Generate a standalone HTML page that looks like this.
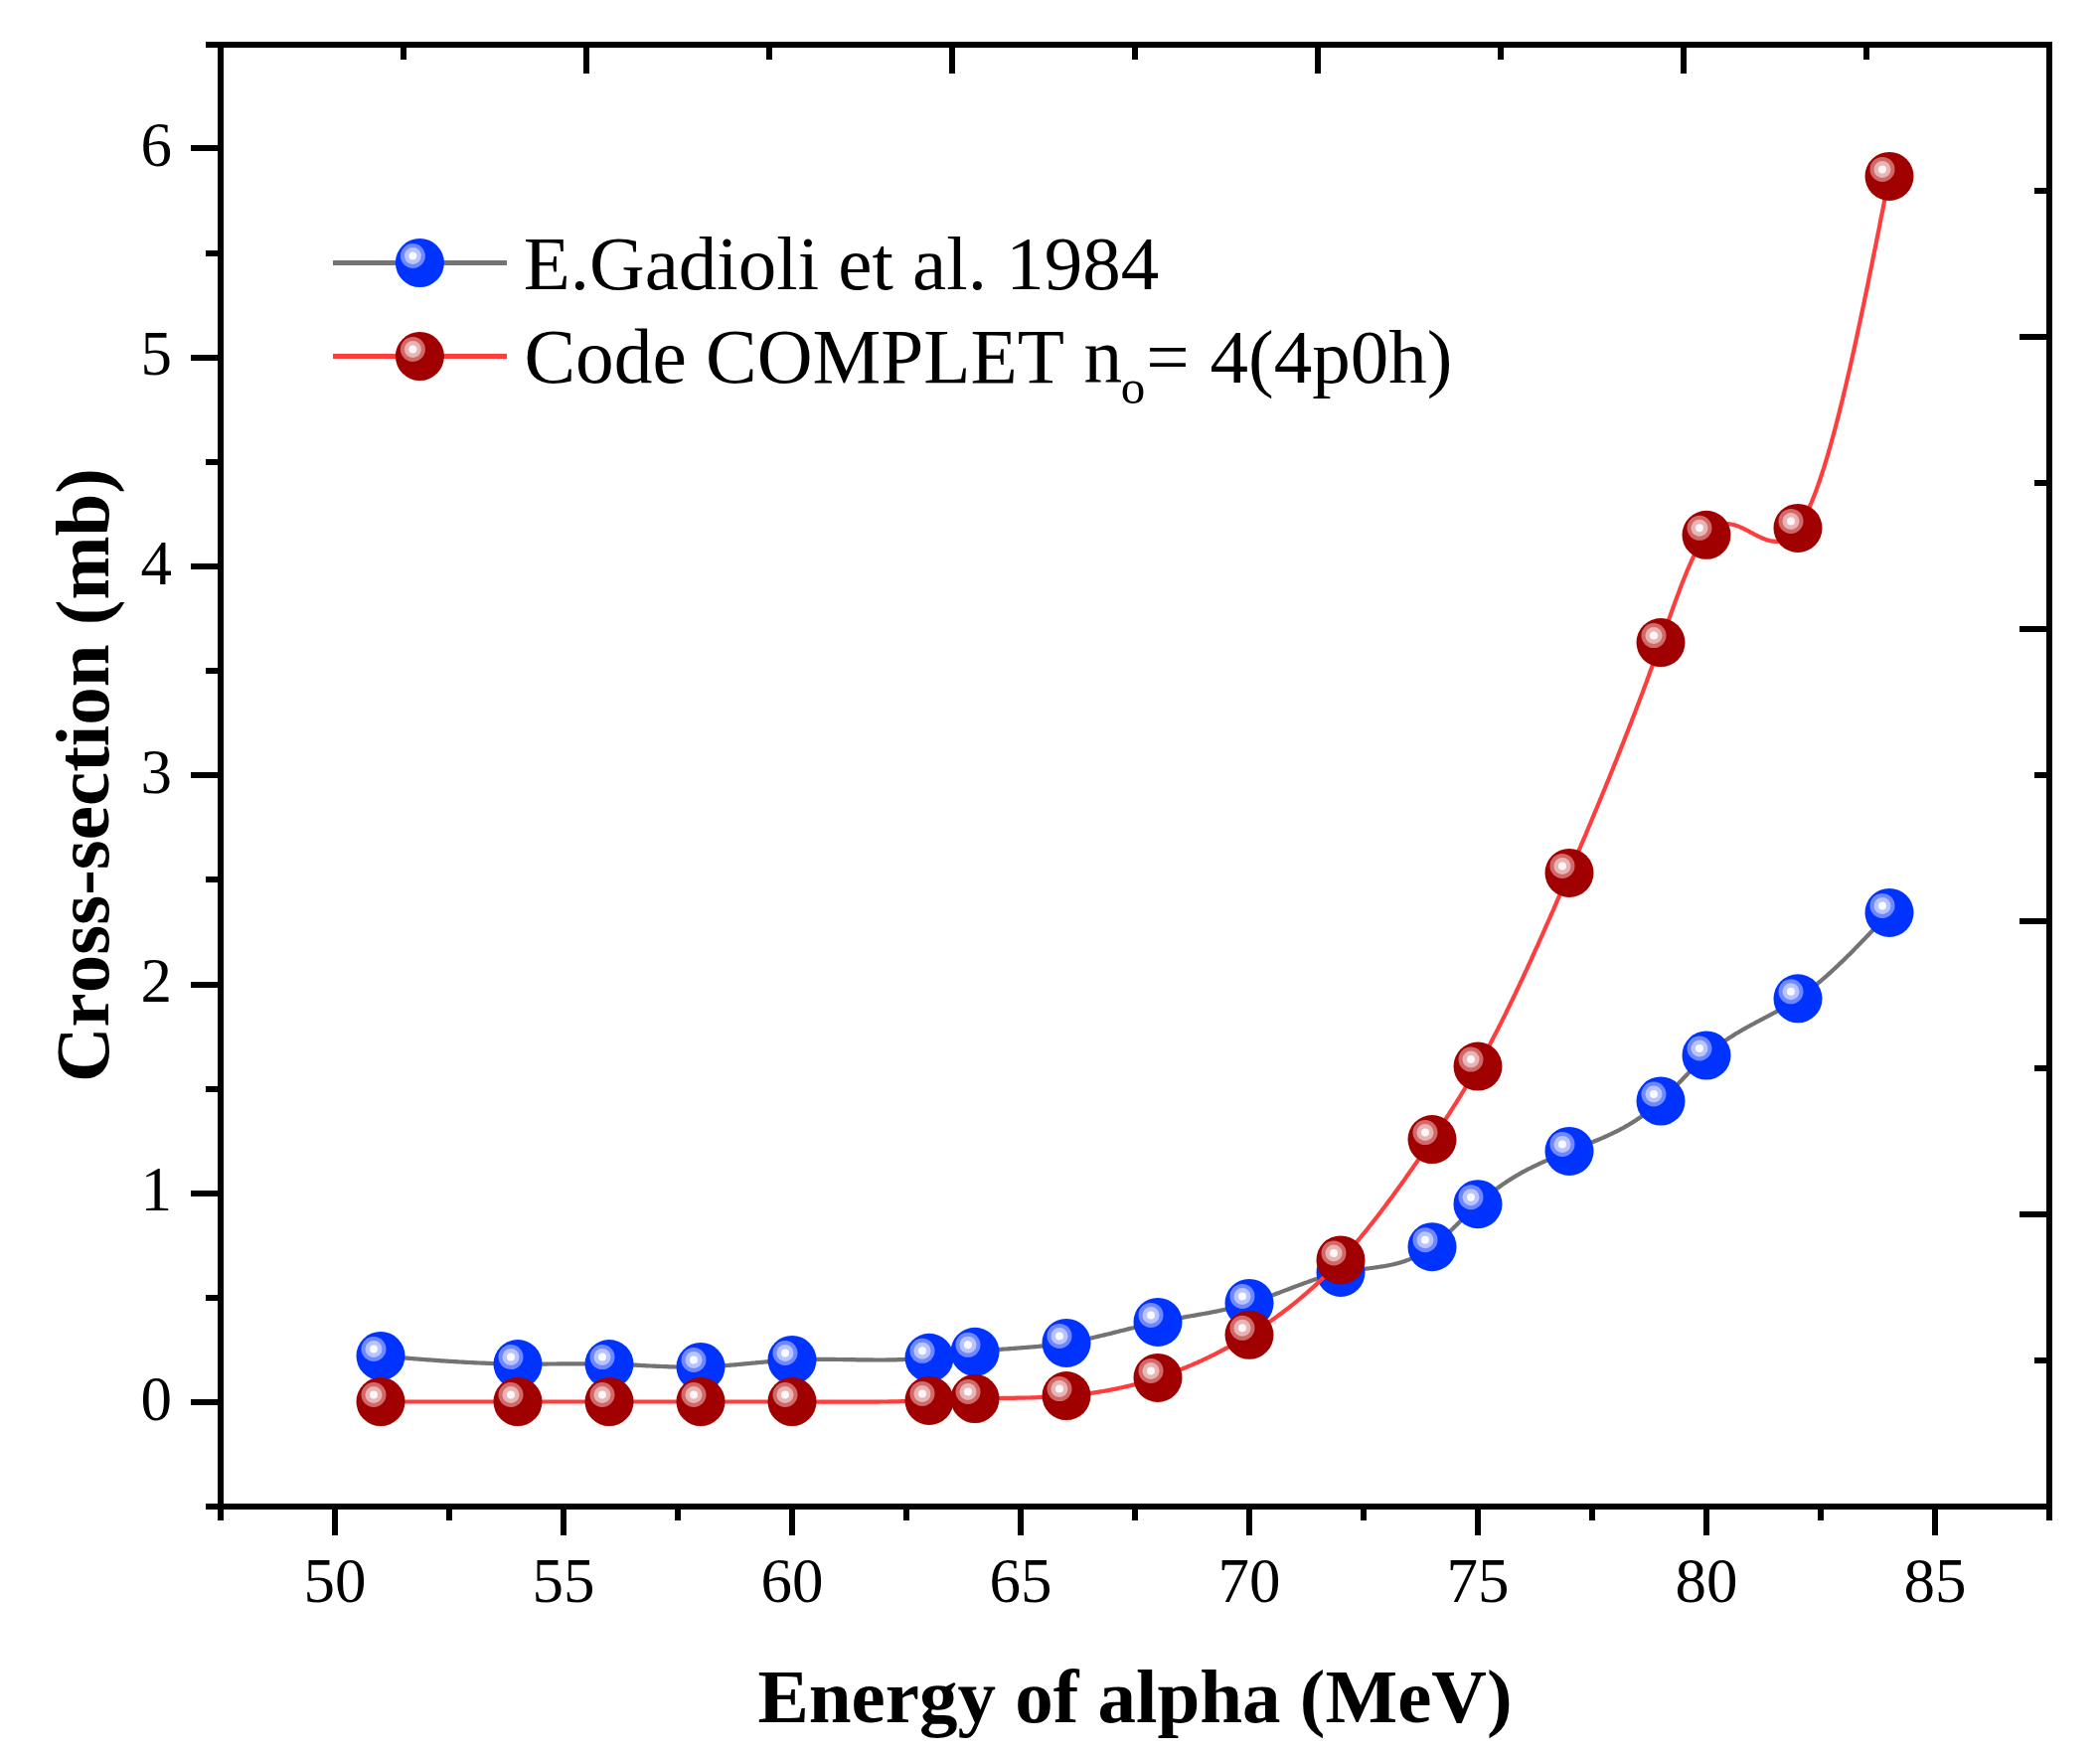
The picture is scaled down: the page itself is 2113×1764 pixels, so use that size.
<!DOCTYPE html><html><head><meta charset="utf-8"><title>Cross-section vs Energy of alpha</title><style>html,body{margin:0;padding:0;background:#fff;overflow:hidden;}svg{display:block;}text{font-family:"Liberation Serif","Times New Roman",serif;fill:#000;font-kerning:none;}</style></head><body>
<svg width="2113" height="1764" viewBox="0 0 2113 1764">
<rect width="2113" height="1764" fill="#fff"/>
<rect x="219" y="42" width="6" height="1477" fill="#000"/>
<rect x="2059" y="42" width="6" height="1477" fill="#000"/>
<rect x="219" y="42" width="1846" height="6" fill="#000"/>
<rect x="219" y="1513" width="1846" height="6" fill="#000"/>
<rect x="207" y="1513" width="12" height="6" fill="#000"/>
<rect x="192" y="1408" width="27" height="6" fill="#000"/>
<rect x="207" y="1303" width="12" height="6" fill="#000"/>
<rect x="192" y="1198" width="27" height="6" fill="#000"/>
<rect x="207" y="1093" width="12" height="6" fill="#000"/>
<rect x="192" y="988" width="27" height="6" fill="#000"/>
<rect x="207" y="882" width="12" height="6" fill="#000"/>
<rect x="192" y="777" width="27" height="6" fill="#000"/>
<rect x="207" y="672" width="12" height="6" fill="#000"/>
<rect x="192" y="567" width="27" height="6" fill="#000"/>
<rect x="207" y="462" width="12" height="6" fill="#000"/>
<rect x="192" y="357" width="27" height="6" fill="#000"/>
<rect x="207" y="252" width="12" height="6" fill="#000"/>
<rect x="192" y="146" width="27" height="6" fill="#000"/>
<rect x="207" y="42" width="12" height="6" fill="#000"/>
<rect x="219" y="1519" width="6" height="11" fill="#000"/>
<rect x="334" y="1519" width="6" height="26" fill="#000"/>
<rect x="449" y="1519" width="6" height="11" fill="#000"/>
<rect x="564" y="1519" width="6" height="26" fill="#000"/>
<rect x="679" y="1519" width="6" height="11" fill="#000"/>
<rect x="794" y="1519" width="6" height="26" fill="#000"/>
<rect x="909" y="1519" width="6" height="11" fill="#000"/>
<rect x="1024" y="1519" width="6" height="26" fill="#000"/>
<rect x="1139" y="1519" width="6" height="11" fill="#000"/>
<rect x="1254" y="1519" width="6" height="26" fill="#000"/>
<rect x="1369" y="1519" width="6" height="11" fill="#000"/>
<rect x="1484" y="1519" width="6" height="26" fill="#000"/>
<rect x="1599" y="1519" width="6" height="11" fill="#000"/>
<rect x="1714" y="1519" width="6" height="26" fill="#000"/>
<rect x="1829" y="1519" width="6" height="11" fill="#000"/>
<rect x="1944" y="1519" width="6" height="26" fill="#000"/>
<rect x="2059" y="1519" width="6" height="11" fill="#000"/>
<rect x="403" y="48" width="6" height="12" fill="#000"/>
<rect x="587" y="48" width="6" height="26" fill="#000"/>
<rect x="771" y="48" width="6" height="12" fill="#000"/>
<rect x="955" y="48" width="6" height="26" fill="#000"/>
<rect x="1139" y="48" width="6" height="12" fill="#000"/>
<rect x="1323" y="48" width="6" height="26" fill="#000"/>
<rect x="1507" y="48" width="6" height="12" fill="#000"/>
<rect x="1691" y="48" width="6" height="26" fill="#000"/>
<rect x="1875" y="48" width="6" height="12" fill="#000"/>
<rect x="2047" y="189" width="12" height="6" fill="#000"/>
<rect x="2032" y="336" width="27" height="6" fill="#000"/>
<rect x="2047" y="483" width="12" height="6" fill="#000"/>
<rect x="2032" y="630" width="27" height="6" fill="#000"/>
<rect x="2047" y="777" width="12" height="6" fill="#000"/>
<rect x="2032" y="924" width="27" height="6" fill="#000"/>
<rect x="2047" y="1072" width="12" height="6" fill="#000"/>
<rect x="2032" y="1219" width="27" height="6" fill="#000"/>
<rect x="2047" y="1366" width="12" height="6" fill="#000"/>
<text x="173" y="1428.5" font-size="63" text-anchor="end">0</text>
<text x="173" y="1218.2" font-size="63" text-anchor="end">1</text>
<text x="173" y="1008.0" font-size="63" text-anchor="end">2</text>
<text x="173" y="797.8" font-size="63" text-anchor="end">3</text>
<text x="173" y="587.5" font-size="63" text-anchor="end">4</text>
<text x="173" y="377.2" font-size="63" text-anchor="end">5</text>
<text x="173" y="167.0" font-size="63" text-anchor="end">6</text>
<text x="337.0" y="1611.5" font-size="63" text-anchor="middle">50</text>
<text x="567.0" y="1611.5" font-size="63" text-anchor="middle">55</text>
<text x="797.0" y="1611.5" font-size="63" text-anchor="middle">60</text>
<text x="1027.0" y="1611.5" font-size="63" text-anchor="middle">65</text>
<text x="1257.0" y="1611.5" font-size="63" text-anchor="middle">70</text>
<text x="1487.0" y="1611.5" font-size="63" text-anchor="middle">75</text>
<text x="1717.0" y="1611.5" font-size="63" text-anchor="middle">80</text>
<text x="1947.0" y="1611.5" font-size="63" text-anchor="middle">85</text>
<text x="1142" y="1733" font-size="77" font-weight="bold" text-anchor="middle">Energy of alpha (MeV)</text>
<text transform="translate(109,780) rotate(-90)" x="0" y="0" font-size="77" font-weight="bold" text-anchor="middle">Cross-section (mb)</text>
<polyline fill="none" stroke="#737373" stroke-width="4.2" stroke-linejoin="round" points="383.0,1364.5 384.3,1364.6 385.5,1364.7 386.8,1364.8 388.1,1364.9 389.3,1365.0 390.6,1365.1 391.9,1365.2 393.1,1365.3 394.4,1365.4 395.7,1365.5 396.9,1365.7 398.2,1365.8 399.5,1365.9 400.7,1366.0 402.0,1366.1 403.3,1366.2 404.5,1366.3 405.8,1366.4 407.1,1366.5 408.3,1366.6 409.6,1366.7 410.9,1366.8 412.1,1366.9 413.4,1367.0 414.7,1367.1 415.9,1367.2 417.2,1367.3 418.4,1367.4 419.7,1367.5 421.0,1367.6 422.2,1367.7 423.5,1367.8 424.8,1367.9 426.0,1368.0 427.3,1368.1 428.6,1368.2 429.8,1368.3 431.1,1368.3 432.4,1368.4 433.6,1368.5 434.9,1368.6 436.2,1368.7 437.4,1368.8 438.7,1368.9 440.0,1369.0 441.2,1369.1 442.5,1369.2 443.8,1369.3 445.0,1369.3 446.3,1369.4 447.6,1369.5 448.8,1369.6 450.1,1369.7 451.4,1369.8 452.6,1369.8 453.9,1369.9 455.2,1370.0 456.4,1370.1 457.7,1370.2 459.0,1370.2 460.2,1370.3 461.5,1370.4 462.8,1370.5 464.0,1370.5 465.3,1370.6 466.6,1370.7 467.8,1370.8 469.1,1370.8 470.4,1370.9 471.6,1371.0 472.9,1371.0 474.2,1371.1 475.4,1371.2 476.7,1371.2 478.0,1371.3 479.2,1371.3 480.5,1371.4 481.8,1371.5 483.0,1371.5 484.3,1371.6 485.6,1371.6 486.8,1371.7 488.1,1371.7 489.3,1371.8 490.6,1371.8 491.9,1371.9 493.1,1371.9 494.4,1372.0 495.7,1372.0 496.9,1372.1 498.2,1372.1 499.5,1372.1 500.7,1372.2 502.0,1372.2 503.3,1372.3 504.5,1372.3 505.8,1372.3 507.1,1372.4 508.3,1372.4 509.6,1372.4 510.9,1372.4 512.1,1372.5 513.4,1372.5 514.7,1372.5 515.9,1372.5 517.2,1372.6 518.5,1372.6 519.7,1372.6 521.0,1372.6 522.3,1372.6 523.5,1372.6 524.8,1372.6 526.1,1372.6 527.3,1372.6 528.6,1372.6 529.9,1372.7 531.1,1372.7 532.4,1372.7 533.7,1372.7 534.9,1372.7 536.2,1372.6 537.5,1372.6 538.7,1372.6 540.0,1372.6 541.3,1372.6 542.5,1372.6 543.8,1372.6 545.1,1372.6 546.3,1372.6 547.6,1372.6 548.9,1372.6 550.1,1372.6 551.4,1372.5 552.7,1372.5 553.9,1372.5 555.2,1372.5 556.4,1372.5 557.7,1372.5 559.0,1372.5 560.2,1372.5 561.5,1372.4 562.8,1372.4 564.0,1372.4 565.3,1372.4 566.6,1372.4 567.8,1372.4 569.1,1372.4 570.4,1372.4 571.6,1372.4 572.9,1372.3 574.2,1372.3 575.4,1372.3 576.7,1372.3 578.0,1372.3 579.2,1372.3 580.5,1372.3 581.8,1372.3 583.0,1372.3 584.3,1372.3 585.6,1372.3 586.8,1372.3 588.1,1372.3 589.4,1372.3 590.6,1372.3 591.9,1372.3 593.2,1372.3 594.4,1372.3 595.7,1372.3 597.0,1372.3 598.2,1372.3 599.5,1372.3 600.8,1372.4 602.0,1372.4 603.3,1372.4 604.6,1372.4 605.8,1372.4 607.1,1372.5 608.4,1372.5 609.6,1372.5 610.9,1372.5 612.2,1372.6 613.4,1372.6 614.7,1372.6 616.0,1372.7 617.2,1372.7 618.5,1372.8 619.8,1372.8 621.0,1372.9 622.3,1372.9 623.6,1373.0 624.8,1373.0 626.1,1373.1 627.3,1373.1 628.6,1373.2 629.9,1373.2 631.1,1373.3 632.4,1373.4 633.7,1373.4 634.9,1373.5 636.2,1373.5 637.5,1373.6 638.7,1373.7 640.0,1373.7 641.3,1373.8 642.5,1373.9 643.8,1373.9 645.1,1374.0 646.3,1374.1 647.6,1374.1 648.9,1374.2 650.1,1374.3 651.4,1374.3 652.7,1374.4 653.9,1374.5 655.2,1374.5 656.5,1374.6 657.7,1374.6 659.0,1374.7 660.3,1374.8 661.5,1374.8 662.8,1374.9 664.1,1374.9 665.3,1375.0 666.6,1375.0 667.9,1375.1 669.1,1375.1 670.4,1375.2 671.7,1375.2 672.9,1375.3 674.2,1375.3 675.5,1375.4 676.7,1375.4 678.0,1375.4 679.3,1375.5 680.5,1375.5 681.8,1375.5 683.1,1375.6 684.3,1375.6 685.6,1375.6 686.9,1375.6 688.1,1375.6 689.4,1375.6 690.7,1375.7 691.9,1375.7 693.2,1375.7 694.4,1375.7 695.7,1375.7 697.0,1375.6 698.2,1375.6 699.5,1375.6 700.8,1375.6 702.0,1375.6 703.3,1375.5 704.6,1375.5 705.8,1375.5 707.1,1375.4 708.4,1375.4 709.6,1375.3 710.9,1375.3 712.2,1375.2 713.4,1375.2 714.7,1375.1 716.0,1375.0 717.2,1375.0 718.5,1374.9 719.8,1374.8 721.0,1374.7 722.3,1374.7 723.6,1374.6 724.8,1374.5 726.1,1374.4 727.4,1374.3 728.6,1374.2 729.9,1374.1 731.2,1374.0 732.4,1373.9 733.7,1373.8 735.0,1373.7 736.2,1373.6 737.5,1373.5 738.8,1373.4 740.0,1373.3 741.3,1373.1 742.6,1373.0 743.8,1372.9 745.1,1372.8 746.4,1372.7 747.6,1372.6 748.9,1372.4 750.2,1372.3 751.4,1372.2 752.7,1372.1 754.0,1372.0 755.2,1371.8 756.5,1371.7 757.8,1371.6 759.0,1371.5 760.3,1371.4 761.6,1371.2 762.8,1371.1 764.1,1371.0 765.3,1370.9 766.6,1370.8 767.9,1370.7 769.1,1370.5 770.4,1370.4 771.7,1370.3 772.9,1370.2 774.2,1370.1 775.5,1370.0 776.7,1369.9 778.0,1369.8 779.3,1369.7 780.5,1369.6 781.8,1369.5 783.1,1369.4 784.3,1369.3 785.6,1369.2 786.9,1369.1 788.1,1369.0 789.4,1368.9 790.7,1368.9 791.9,1368.8 793.2,1368.7 794.5,1368.6 795.7,1368.6 797.0,1368.5 798.3,1368.4 799.5,1368.4 800.8,1368.3 802.1,1368.3 803.3,1368.2 804.6,1368.2 805.9,1368.1 807.1,1368.1 808.4,1368.1 809.7,1368.0 810.9,1368.0 812.2,1368.0 813.5,1368.0 814.7,1367.9 816.0,1367.9 817.3,1367.9 818.5,1367.9 819.8,1367.9 821.1,1367.9 822.3,1367.9 823.6,1367.9 824.9,1367.9 826.1,1367.9 827.4,1367.9 828.7,1367.9 829.9,1367.9 831.2,1367.9 832.4,1367.9 833.7,1367.9 835.0,1367.9 836.2,1367.9 837.5,1367.9 838.8,1367.9 840.0,1367.9 841.3,1368.0 842.6,1368.0 843.8,1368.0 845.1,1368.0 846.4,1368.0 847.6,1368.0 848.9,1368.1 850.2,1368.1 851.4,1368.1 852.7,1368.1 854.0,1368.1 855.2,1368.2 856.5,1368.2 857.8,1368.2 859.0,1368.2 860.3,1368.2 861.6,1368.3 862.8,1368.3 864.1,1368.3 865.4,1368.3 866.6,1368.3 867.9,1368.3 869.2,1368.4 870.4,1368.4 871.7,1368.4 873.0,1368.4 874.2,1368.4 875.5,1368.4 876.8,1368.4 878.0,1368.4 879.3,1368.5 880.6,1368.5 881.8,1368.5 883.1,1368.5 884.4,1368.5 885.6,1368.5 886.9,1368.5 888.2,1368.5 889.4,1368.5 890.7,1368.5 892.0,1368.4 893.2,1368.4 894.5,1368.4 895.8,1368.4 897.0,1368.4 898.3,1368.4 899.6,1368.3 900.8,1368.3 902.1,1368.3 903.3,1368.2 904.6,1368.2 905.9,1368.2 907.1,1368.1 908.4,1368.1 909.7,1368.0 910.9,1368.0 912.2,1367.9 913.5,1367.9 914.7,1367.8 916.0,1367.7 917.3,1367.7 918.5,1367.6 919.8,1367.5 921.1,1367.5 922.3,1367.4 923.6,1367.3 924.9,1367.2 926.1,1367.1 927.4,1367.0 928.7,1366.9 929.9,1366.8 931.2,1366.7 932.5,1366.5 933.7,1366.4 935.0,1366.3 936.3,1366.2 937.5,1366.0 938.8,1365.9 940.1,1365.7 941.3,1365.6 942.6,1365.4 943.9,1365.3 945.1,1365.1 946.4,1365.0 947.7,1364.8 948.9,1364.6 950.2,1364.5 951.5,1364.3 952.7,1364.1 954.0,1363.9 955.3,1363.8 956.5,1363.6 957.8,1363.4 959.1,1363.2 960.3,1363.1 961.6,1362.9 962.9,1362.7 964.1,1362.5 965.4,1362.3 966.7,1362.2 967.9,1362.0 969.2,1361.8 970.4,1361.6 971.7,1361.5 973.0,1361.3 974.2,1361.1 975.5,1361.0 976.8,1360.8 978.0,1360.7 979.3,1360.5 980.6,1360.3 981.8,1360.2 983.1,1360.1 984.4,1359.9 985.6,1359.8 986.9,1359.6 988.2,1359.5 989.4,1359.4 990.7,1359.3 992.0,1359.1 993.2,1359.0 994.5,1358.9 995.8,1358.8 997.0,1358.7 998.3,1358.6 999.6,1358.5 1000.8,1358.3 1002.1,1358.2 1003.4,1358.1 1004.6,1358.0 1005.9,1357.9 1007.2,1357.8 1008.4,1357.7 1009.7,1357.6 1011.0,1357.5 1012.2,1357.5 1013.5,1357.4 1014.8,1357.3 1016.0,1357.2 1017.3,1357.1 1018.6,1357.0 1019.8,1356.9 1021.1,1356.8 1022.4,1356.7 1023.6,1356.6 1024.9,1356.5 1026.2,1356.4 1027.4,1356.3 1028.7,1356.2 1030.0,1356.1 1031.2,1356.0 1032.5,1355.9 1033.8,1355.8 1035.0,1355.7 1036.3,1355.6 1037.6,1355.5 1038.8,1355.4 1040.1,1355.3 1041.3,1355.2 1042.6,1355.1 1043.9,1355.0 1045.1,1354.9 1046.4,1354.7 1047.7,1354.6 1048.9,1354.5 1050.2,1354.4 1051.5,1354.2 1052.7,1354.1 1054.0,1354.0 1055.3,1353.8 1056.5,1353.7 1057.8,1353.5 1059.1,1353.4 1060.3,1353.2 1061.6,1353.0 1062.9,1352.9 1064.1,1352.7 1065.4,1352.5 1066.7,1352.4 1067.9,1352.2 1069.2,1352.0 1070.5,1351.8 1071.7,1351.6 1073.0,1351.4 1074.3,1351.2 1075.5,1351.0 1076.8,1350.8 1078.1,1350.5 1079.3,1350.3 1080.6,1350.1 1081.9,1349.8 1083.1,1349.6 1084.4,1349.4 1085.7,1349.1 1086.9,1348.9 1088.2,1348.6 1089.5,1348.3 1090.7,1348.1 1092.0,1347.8 1093.3,1347.5 1094.5,1347.3 1095.8,1347.0 1097.1,1346.7 1098.3,1346.4 1099.6,1346.1 1100.9,1345.8 1102.1,1345.5 1103.4,1345.2 1104.7,1344.9 1105.9,1344.6 1107.2,1344.3 1108.4,1344.0 1109.7,1343.7 1111.0,1343.4 1112.2,1343.1 1113.5,1342.8 1114.8,1342.5 1116.0,1342.2 1117.3,1341.9 1118.6,1341.6 1119.8,1341.2 1121.1,1340.9 1122.4,1340.6 1123.6,1340.3 1124.9,1340.0 1126.2,1339.6 1127.4,1339.3 1128.7,1339.0 1130.0,1338.7 1131.2,1338.4 1132.5,1338.1 1133.8,1337.7 1135.0,1337.4 1136.3,1337.1 1137.6,1336.8 1138.8,1336.5 1140.1,1336.2 1141.4,1335.8 1142.6,1335.5 1143.9,1335.2 1145.2,1334.9 1146.4,1334.6 1147.7,1334.3 1149.0,1334.0 1150.2,1333.7 1151.5,1333.4 1152.8,1333.1 1154.0,1332.8 1155.3,1332.5 1156.6,1332.2 1157.8,1332.0 1159.1,1331.7 1160.4,1331.4 1161.6,1331.1 1162.9,1330.8 1164.2,1330.6 1165.4,1330.3 1166.7,1330.0 1168.0,1329.8 1169.2,1329.5 1170.5,1329.3 1171.8,1329.0 1173.0,1328.8 1174.3,1328.5 1175.6,1328.3 1176.8,1328.1 1178.1,1327.8 1179.3,1327.6 1180.6,1327.4 1181.9,1327.1 1183.1,1326.9 1184.4,1326.7 1185.7,1326.4 1186.9,1326.2 1188.2,1326.0 1189.5,1325.8 1190.7,1325.6 1192.0,1325.3 1193.3,1325.1 1194.5,1324.9 1195.8,1324.7 1197.1,1324.5 1198.3,1324.2 1199.6,1324.0 1200.9,1323.8 1202.1,1323.6 1203.4,1323.3 1204.7,1323.1 1205.9,1322.9 1207.2,1322.7 1208.5,1322.5 1209.7,1322.2 1211.0,1322.0 1212.3,1321.8 1213.5,1321.5 1214.8,1321.3 1216.1,1321.1 1217.3,1320.8 1218.6,1320.6 1219.9,1320.3 1221.1,1320.1 1222.4,1319.8 1223.7,1319.6 1224.9,1319.3 1226.2,1319.1 1227.5,1318.8 1228.7,1318.6 1230.0,1318.3 1231.3,1318.0 1232.5,1317.7 1233.8,1317.5 1235.1,1317.2 1236.3,1316.9 1237.6,1316.6 1238.9,1316.3 1240.1,1316.0 1241.4,1315.7 1242.7,1315.4 1243.9,1315.0 1245.2,1314.7 1246.4,1314.4 1247.7,1314.1 1249.0,1313.7 1250.2,1313.4 1251.5,1313.0 1252.8,1312.6 1254.0,1312.3 1255.3,1311.9 1256.6,1311.5 1257.8,1311.1 1259.1,1310.7 1260.4,1310.3 1261.6,1309.9 1262.9,1309.5 1264.2,1309.1 1265.4,1308.7 1266.7,1308.3 1268.0,1307.8 1269.2,1307.4 1270.5,1306.9 1271.8,1306.5 1273.0,1306.0 1274.3,1305.6 1275.6,1305.1 1276.8,1304.7 1278.1,1304.2 1279.4,1303.7 1280.6,1303.2 1281.9,1302.8 1283.2,1302.3 1284.4,1301.8 1285.7,1301.3 1287.0,1300.9 1288.2,1300.4 1289.5,1299.9 1290.8,1299.4 1292.0,1298.9 1293.3,1298.4 1294.6,1297.9 1295.8,1297.5 1297.1,1297.0 1298.4,1296.5 1299.6,1296.0 1300.9,1295.5 1302.2,1295.0 1303.4,1294.6 1304.7,1294.1 1306.0,1293.6 1307.2,1293.1 1308.5,1292.7 1309.8,1292.2 1311.0,1291.7 1312.3,1291.3 1313.6,1290.8 1314.8,1290.4 1316.1,1289.9 1317.3,1289.5 1318.6,1289.0 1319.9,1288.6 1321.1,1288.1 1322.4,1287.7 1323.7,1287.3 1324.9,1286.9 1326.2,1286.5 1327.5,1286.1 1328.7,1285.7 1330.0,1285.3 1331.3,1284.9 1332.5,1284.5 1333.8,1284.2 1335.1,1283.8 1336.3,1283.4 1337.6,1283.1 1338.9,1282.8 1340.1,1282.4 1341.4,1282.1 1342.7,1281.8 1343.9,1281.5 1345.2,1281.2 1346.5,1280.9 1347.7,1280.7 1349.0,1280.4 1350.3,1280.1 1351.5,1279.9 1352.8,1279.7 1354.1,1279.5 1355.3,1279.2 1356.6,1279.0 1357.9,1278.8 1359.1,1278.6 1360.4,1278.5 1361.7,1278.3 1362.9,1278.1 1364.2,1277.9 1365.5,1277.8 1366.7,1277.6 1368.0,1277.4 1369.3,1277.3 1370.5,1277.1 1371.8,1277.0 1373.1,1276.8 1374.3,1276.7 1375.6,1276.5 1376.9,1276.4 1378.1,1276.2 1379.4,1276.0 1380.7,1275.9 1381.9,1275.7 1383.2,1275.5 1384.4,1275.4 1385.7,1275.2 1387.0,1275.0 1388.2,1274.8 1389.5,1274.6 1390.8,1274.4 1392.0,1274.2 1393.3,1274.0 1394.6,1273.8 1395.8,1273.5 1397.1,1273.3 1398.4,1273.0 1399.6,1272.8 1400.9,1272.5 1402.2,1272.2 1403.4,1271.9 1404.7,1271.6 1406.0,1271.3 1407.2,1270.9 1408.5,1270.6 1409.8,1270.2 1411.0,1269.8 1412.3,1269.4 1413.6,1269.0 1414.8,1268.5 1416.1,1268.1 1417.4,1267.6 1418.6,1267.1 1419.9,1266.6 1421.2,1266.1 1422.4,1265.5 1423.7,1264.9 1425.0,1264.4 1426.2,1263.7 1427.5,1263.1 1428.8,1262.4 1430.0,1261.7 1431.3,1261.0 1432.6,1260.3 1433.8,1259.5 1435.1,1258.7 1436.4,1257.9 1437.6,1257.1 1438.9,1256.2 1440.2,1255.3 1441.4,1254.4 1442.7,1253.4 1444.0,1252.4 1445.2,1251.4 1446.5,1250.4 1447.8,1249.3 1449.0,1248.3 1450.3,1247.2 1451.6,1246.0 1452.8,1244.9 1454.1,1243.7 1455.3,1242.6 1456.6,1241.4 1457.9,1240.2 1459.1,1239.0 1460.4,1237.7 1461.7,1236.5 1462.9,1235.3 1464.2,1234.0 1465.5,1232.8 1466.7,1231.5 1468.0,1230.2 1469.3,1229.0 1470.5,1227.7 1471.8,1226.4 1473.1,1225.2 1474.3,1223.9 1475.6,1222.6 1476.9,1221.4 1478.1,1220.1 1479.4,1218.9 1480.7,1217.7 1481.9,1216.5 1483.2,1215.2 1484.5,1214.0 1485.7,1212.9 1487.0,1211.7 1488.3,1210.6 1489.5,1209.4 1490.8,1208.3 1492.1,1207.2 1493.3,1206.1 1494.6,1205.0 1495.9,1204.0 1497.1,1203.0 1498.4,1201.9 1499.7,1200.9 1500.9,1199.9 1502.2,1199.0 1503.5,1198.0 1504.7,1197.0 1506.0,1196.1 1507.3,1195.2 1508.5,1194.3 1509.8,1193.4 1511.1,1192.5 1512.3,1191.6 1513.6,1190.8 1514.9,1189.9 1516.1,1189.1 1517.4,1188.3 1518.7,1187.4 1519.9,1186.6 1521.2,1185.9 1522.4,1185.1 1523.7,1184.3 1525.0,1183.6 1526.2,1182.8 1527.5,1182.1 1528.8,1181.4 1530.0,1180.6 1531.3,1179.9 1532.6,1179.2 1533.8,1178.6 1535.1,1177.9 1536.4,1177.2 1537.6,1176.5 1538.9,1175.9 1540.2,1175.3 1541.4,1174.6 1542.7,1174.0 1544.0,1173.4 1545.2,1172.8 1546.5,1172.2 1547.8,1171.6 1549.0,1171.0 1550.3,1170.4 1551.6,1169.8 1552.8,1169.2 1554.1,1168.7 1555.4,1168.1 1556.6,1167.5 1557.9,1167.0 1559.2,1166.4 1560.4,1165.9 1561.7,1165.4 1563.0,1164.8 1564.2,1164.3 1565.5,1163.8 1566.8,1163.3 1568.0,1162.8 1569.3,1162.2 1570.6,1161.7 1571.8,1161.2 1573.1,1160.7 1574.4,1160.2 1575.6,1159.7 1576.9,1159.2 1578.2,1158.7 1579.4,1158.2 1580.7,1157.7 1582.0,1157.3 1583.2,1156.8 1584.5,1156.3 1585.8,1155.8 1587.0,1155.3 1588.3,1154.8 1589.6,1154.3 1590.8,1153.8 1592.1,1153.3 1593.3,1152.8 1594.6,1152.4 1595.9,1151.9 1597.1,1151.4 1598.4,1150.9 1599.7,1150.4 1600.9,1149.8 1602.2,1149.3 1603.5,1148.8 1604.7,1148.3 1606.0,1147.8 1607.3,1147.3 1608.5,1146.7 1609.8,1146.2 1611.1,1145.6 1612.3,1145.1 1613.6,1144.5 1614.9,1144.0 1616.1,1143.4 1617.4,1142.8 1618.7,1142.2 1619.9,1141.6 1621.2,1141.1 1622.5,1140.4 1623.7,1139.8 1625.0,1139.2 1626.3,1138.6 1627.5,1137.9 1628.8,1137.3 1630.1,1136.6 1631.3,1135.9 1632.6,1135.3 1633.9,1134.6 1635.1,1133.9 1636.4,1133.1 1637.7,1132.4 1638.9,1131.7 1640.2,1130.9 1641.5,1130.2 1642.7,1129.4 1644.0,1128.6 1645.3,1127.8 1646.5,1127.0 1647.8,1126.1 1649.1,1125.3 1650.3,1124.4 1651.6,1123.5 1652.9,1122.6 1654.1,1121.7 1655.4,1120.8 1656.7,1119.9 1657.9,1118.9 1659.2,1117.9 1660.4,1117.0 1661.7,1115.9 1663.0,1114.9 1664.2,1113.9 1665.5,1112.8 1666.8,1111.7 1668.0,1110.6 1669.3,1109.5 1670.6,1108.4 1671.8,1107.2 1673.1,1106.1 1674.4,1104.9 1675.6,1103.6 1676.9,1102.4 1678.2,1101.2 1679.4,1099.9 1680.7,1098.7 1682.0,1097.4 1683.2,1096.1 1684.5,1094.8 1685.8,1093.5 1687.0,1092.2 1688.3,1090.9 1689.6,1089.5 1690.8,1088.2 1692.1,1086.9 1693.4,1085.6 1694.6,1084.2 1695.9,1082.9 1697.2,1081.6 1698.4,1080.3 1699.7,1078.9 1701.0,1077.6 1702.2,1076.3 1703.5,1075.0 1704.8,1073.8 1706.0,1072.5 1707.3,1071.2 1708.6,1070.0 1709.8,1068.7 1711.1,1067.5 1712.4,1066.3 1713.6,1065.1 1714.9,1063.9 1716.2,1062.8 1717.4,1061.6 1718.7,1060.5 1720.0,1059.4 1721.2,1058.3 1722.5,1057.3 1723.8,1056.3 1725.0,1055.2 1726.3,1054.2 1727.6,1053.3 1728.8,1052.3 1730.1,1051.3 1731.3,1050.4 1732.6,1049.5 1733.9,1048.6 1735.1,1047.7 1736.4,1046.8 1737.7,1046.0 1738.9,1045.1 1740.2,1044.3 1741.5,1043.5 1742.7,1042.7 1744.0,1041.9 1745.3,1041.1 1746.5,1040.3 1747.8,1039.5 1749.1,1038.8 1750.3,1038.0 1751.6,1037.3 1752.9,1036.6 1754.1,1035.8 1755.4,1035.1 1756.7,1034.4 1757.9,1033.7 1759.2,1033.0 1760.5,1032.3 1761.7,1031.6 1763.0,1030.9 1764.3,1030.3 1765.5,1029.6 1766.8,1028.9 1768.1,1028.2 1769.3,1027.6 1770.6,1026.9 1771.9,1026.2 1773.1,1025.6 1774.4,1024.9 1775.7,1024.2 1776.9,1023.6 1778.2,1022.9 1779.5,1022.2 1780.7,1021.5 1782.0,1020.9 1783.3,1020.2 1784.5,1019.5 1785.8,1018.8 1787.1,1018.1 1788.3,1017.4 1789.6,1016.7 1790.9,1016.0 1792.1,1015.3 1793.4,1014.5 1794.7,1013.8 1795.9,1013.1 1797.2,1012.3 1798.4,1011.6 1799.7,1010.8 1801.0,1010.0 1802.2,1009.2 1803.5,1008.4 1804.8,1007.6 1806.0,1006.8 1807.3,1005.9 1808.6,1005.1 1809.8,1004.2 1811.1,1003.3 1812.4,1002.5 1813.6,1001.6 1814.9,1000.6 1816.2,999.7 1817.4,998.8 1818.7,997.8 1820.0,996.9 1821.2,995.9 1822.5,994.9 1823.8,993.9 1825.0,992.9 1826.3,991.8 1827.6,990.8 1828.8,989.8 1830.1,988.7 1831.4,987.6 1832.6,986.6 1833.9,985.5 1835.2,984.4 1836.4,983.3 1837.7,982.2 1839.0,981.0 1840.2,979.9 1841.5,978.8 1842.8,977.6 1844.0,976.5 1845.3,975.3 1846.6,974.1 1847.8,972.9 1849.1,971.7 1850.4,970.5 1851.6,969.3 1852.9,968.1 1854.2,966.9 1855.4,965.7 1856.7,964.4 1858.0,963.2 1859.2,961.9 1860.5,960.7 1861.8,959.4 1863.0,958.2 1864.3,956.9 1865.6,955.6 1866.8,954.3 1868.1,953.0 1869.3,951.7 1870.6,950.4 1871.9,949.1 1873.1,947.8 1874.4,946.5 1875.7,945.2 1876.9,943.9 1878.2,942.6 1879.5,941.2 1880.7,939.9 1882.0,938.6 1883.3,937.3 1884.5,935.9 1885.8,934.6 1887.1,933.2 1888.3,931.9 1889.6,930.6 1890.9,929.2 1892.1,927.9 1893.4,926.5 1894.7,925.2 1895.9,923.8 1897.2,922.5 1898.5,921.1 1899.7,919.8 1901.0,918.4"/>
<circle cx="383.0" cy="1364.5" r="24.5" fill="#0033ff"/><circle cx="376.0" cy="1357.5" r="12.5" fill="#7088ff"/><circle cx="376.0" cy="1357.5" r="8.5" fill="#b8c4ff"/><circle cx="376.0" cy="1357.5" r="4" fill="#f8faff"/>
<circle cx="521.0" cy="1372.6" r="24.5" fill="#0033ff"/><circle cx="514.0" cy="1365.6" r="12.5" fill="#7088ff"/><circle cx="514.0" cy="1365.6" r="8.5" fill="#b8c4ff"/><circle cx="514.0" cy="1365.6" r="4" fill="#f8faff"/>
<circle cx="613.0" cy="1372.6" r="24.5" fill="#0033ff"/><circle cx="606.0" cy="1365.6" r="12.5" fill="#7088ff"/><circle cx="606.0" cy="1365.6" r="8.5" fill="#b8c4ff"/><circle cx="606.0" cy="1365.6" r="4" fill="#f8faff"/>
<circle cx="705.0" cy="1375.5" r="24.5" fill="#0033ff"/><circle cx="698.0" cy="1368.5" r="12.5" fill="#7088ff"/><circle cx="698.0" cy="1368.5" r="8.5" fill="#b8c4ff"/><circle cx="698.0" cy="1368.5" r="4" fill="#f8faff"/>
<circle cx="797.0" cy="1368.5" r="24.5" fill="#0033ff"/><circle cx="790.0" cy="1361.5" r="12.5" fill="#7088ff"/><circle cx="790.0" cy="1361.5" r="8.5" fill="#b8c4ff"/><circle cx="790.0" cy="1361.5" r="4" fill="#f8faff"/>
<circle cx="935.0" cy="1366.3" r="24.5" fill="#0033ff"/><circle cx="928.0" cy="1359.3" r="12.5" fill="#7088ff"/><circle cx="928.0" cy="1359.3" r="8.5" fill="#b8c4ff"/><circle cx="928.0" cy="1359.3" r="4" fill="#f8faff"/>
<circle cx="981.0" cy="1360.3" r="24.5" fill="#0033ff"/><circle cx="974.0" cy="1353.3" r="12.5" fill="#7088ff"/><circle cx="974.0" cy="1353.3" r="8.5" fill="#b8c4ff"/><circle cx="974.0" cy="1353.3" r="4" fill="#f8faff"/>
<circle cx="1073.0" cy="1351.4" r="24.5" fill="#0033ff"/><circle cx="1066.0" cy="1344.4" r="12.5" fill="#7088ff"/><circle cx="1066.0" cy="1344.4" r="8.5" fill="#b8c4ff"/><circle cx="1066.0" cy="1344.4" r="4" fill="#f8faff"/>
<circle cx="1165.0" cy="1330.4" r="24.5" fill="#0033ff"/><circle cx="1158.0" cy="1323.4" r="12.5" fill="#7088ff"/><circle cx="1158.0" cy="1323.4" r="8.5" fill="#b8c4ff"/><circle cx="1158.0" cy="1323.4" r="4" fill="#f8faff"/>
<circle cx="1257.0" cy="1311.4" r="24.5" fill="#0033ff"/><circle cx="1250.0" cy="1304.4" r="12.5" fill="#7088ff"/><circle cx="1250.0" cy="1304.4" r="8.5" fill="#b8c4ff"/><circle cx="1250.0" cy="1304.4" r="4" fill="#f8faff"/>
<circle cx="1349.0" cy="1280.4" r="24.5" fill="#0033ff"/><circle cx="1342.0" cy="1273.4" r="12.5" fill="#7088ff"/><circle cx="1342.0" cy="1273.4" r="8.5" fill="#b8c4ff"/><circle cx="1342.0" cy="1273.4" r="4" fill="#f8faff"/>
<circle cx="1441.0" cy="1254.7" r="24.5" fill="#0033ff"/><circle cx="1434.0" cy="1247.7" r="12.5" fill="#7088ff"/><circle cx="1434.0" cy="1247.7" r="8.5" fill="#b8c4ff"/><circle cx="1434.0" cy="1247.7" r="4" fill="#f8faff"/>
<circle cx="1487.0" cy="1211.7" r="24.5" fill="#0033ff"/><circle cx="1480.0" cy="1204.7" r="12.5" fill="#7088ff"/><circle cx="1480.0" cy="1204.7" r="8.5" fill="#b8c4ff"/><circle cx="1480.0" cy="1204.7" r="4" fill="#f8faff"/>
<circle cx="1579.0" cy="1158.4" r="24.5" fill="#0033ff"/><circle cx="1572.0" cy="1151.4" r="12.5" fill="#7088ff"/><circle cx="1572.0" cy="1151.4" r="8.5" fill="#b8c4ff"/><circle cx="1572.0" cy="1151.4" r="4" fill="#f8faff"/>
<circle cx="1671.0" cy="1108.0" r="24.5" fill="#0033ff"/><circle cx="1664.0" cy="1101.0" r="12.5" fill="#7088ff"/><circle cx="1664.0" cy="1101.0" r="8.5" fill="#b8c4ff"/><circle cx="1664.0" cy="1101.0" r="4" fill="#f8faff"/>
<circle cx="1717.0" cy="1062.0" r="24.5" fill="#0033ff"/><circle cx="1710.0" cy="1055.0" r="12.5" fill="#7088ff"/><circle cx="1710.0" cy="1055.0" r="8.5" fill="#b8c4ff"/><circle cx="1710.0" cy="1055.0" r="4" fill="#f8faff"/>
<circle cx="1809.0" cy="1004.8" r="24.5" fill="#0033ff"/><circle cx="1802.0" cy="997.8" r="12.5" fill="#7088ff"/><circle cx="1802.0" cy="997.8" r="8.5" fill="#b8c4ff"/><circle cx="1802.0" cy="997.8" r="4" fill="#f8faff"/>
<circle cx="1901.0" cy="918.4" r="24.5" fill="#0033ff"/><circle cx="1894.0" cy="911.4" r="12.5" fill="#7088ff"/><circle cx="1894.0" cy="911.4" r="8.5" fill="#b8c4ff"/><circle cx="1894.0" cy="911.4" r="4" fill="#f8faff"/>
<polyline fill="none" stroke="#ff3d3d" stroke-width="4.2" stroke-linejoin="round" points="383.0,1410.5 384.3,1410.5 385.5,1410.5 386.8,1410.5 388.1,1410.5 389.3,1410.5 390.6,1410.5 391.9,1410.5 393.1,1410.5 394.4,1410.5 395.7,1410.5 396.9,1410.5 398.2,1410.5 399.5,1410.5 400.7,1410.5 402.0,1410.5 403.3,1410.5 404.5,1410.5 405.8,1410.5 407.1,1410.5 408.3,1410.5 409.6,1410.5 410.9,1410.5 412.1,1410.5 413.4,1410.5 414.7,1410.5 415.9,1410.5 417.2,1410.5 418.4,1410.5 419.7,1410.5 421.0,1410.5 422.2,1410.5 423.5,1410.5 424.8,1410.5 426.0,1410.5 427.3,1410.5 428.6,1410.5 429.8,1410.5 431.1,1410.5 432.4,1410.5 433.6,1410.5 434.9,1410.5 436.2,1410.5 437.4,1410.5 438.7,1410.5 440.0,1410.5 441.2,1410.5 442.5,1410.5 443.8,1410.5 445.0,1410.5 446.3,1410.5 447.6,1410.5 448.8,1410.5 450.1,1410.5 451.4,1410.5 452.6,1410.5 453.9,1410.5 455.2,1410.5 456.4,1410.5 457.7,1410.5 459.0,1410.5 460.2,1410.5 461.5,1410.5 462.8,1410.5 464.0,1410.5 465.3,1410.5 466.6,1410.5 467.8,1410.5 469.1,1410.5 470.4,1410.5 471.6,1410.5 472.9,1410.5 474.2,1410.5 475.4,1410.5 476.7,1410.5 478.0,1410.5 479.2,1410.5 480.5,1410.5 481.8,1410.5 483.0,1410.5 484.3,1410.5 485.6,1410.5 486.8,1410.5 488.1,1410.5 489.3,1410.5 490.6,1410.5 491.9,1410.5 493.1,1410.5 494.4,1410.5 495.7,1410.5 496.9,1410.5 498.2,1410.5 499.5,1410.5 500.7,1410.5 502.0,1410.5 503.3,1410.5 504.5,1410.5 505.8,1410.5 507.1,1410.5 508.3,1410.5 509.6,1410.5 510.9,1410.5 512.1,1410.5 513.4,1410.5 514.7,1410.5 515.9,1410.5 517.2,1410.5 518.5,1410.5 519.7,1410.5 521.0,1410.5 522.3,1410.5 523.5,1410.5 524.8,1410.5 526.1,1410.5 527.3,1410.5 528.6,1410.5 529.9,1410.5 531.1,1410.5 532.4,1410.5 533.7,1410.5 534.9,1410.5 536.2,1410.5 537.5,1410.5 538.7,1410.5 540.0,1410.5 541.3,1410.5 542.5,1410.5 543.8,1410.5 545.1,1410.5 546.3,1410.5 547.6,1410.5 548.9,1410.5 550.1,1410.5 551.4,1410.5 552.7,1410.5 553.9,1410.5 555.2,1410.5 556.4,1410.5 557.7,1410.5 559.0,1410.5 560.2,1410.5 561.5,1410.5 562.8,1410.5 564.0,1410.5 565.3,1410.5 566.6,1410.5 567.8,1410.5 569.1,1410.5 570.4,1410.5 571.6,1410.5 572.9,1410.5 574.2,1410.5 575.4,1410.5 576.7,1410.5 578.0,1410.5 579.2,1410.5 580.5,1410.5 581.8,1410.5 583.0,1410.5 584.3,1410.5 585.6,1410.5 586.8,1410.5 588.1,1410.5 589.4,1410.5 590.6,1410.5 591.9,1410.5 593.2,1410.5 594.4,1410.5 595.7,1410.5 597.0,1410.5 598.2,1410.5 599.5,1410.5 600.8,1410.5 602.0,1410.5 603.3,1410.5 604.6,1410.5 605.8,1410.5 607.1,1410.5 608.4,1410.5 609.6,1410.5 610.9,1410.5 612.2,1410.5 613.4,1410.5 614.7,1410.5 616.0,1410.5 617.2,1410.5 618.5,1410.5 619.8,1410.5 621.0,1410.5 622.3,1410.5 623.6,1410.5 624.8,1410.5 626.1,1410.5 627.3,1410.5 628.6,1410.5 629.9,1410.5 631.1,1410.5 632.4,1410.5 633.7,1410.5 634.9,1410.5 636.2,1410.5 637.5,1410.5 638.7,1410.5 640.0,1410.5 641.3,1410.5 642.5,1410.5 643.8,1410.5 645.1,1410.5 646.3,1410.5 647.6,1410.5 648.9,1410.5 650.1,1410.5 651.4,1410.5 652.7,1410.5 653.9,1410.5 655.2,1410.5 656.5,1410.5 657.7,1410.5 659.0,1410.5 660.3,1410.5 661.5,1410.5 662.8,1410.5 664.1,1410.5 665.3,1410.5 666.6,1410.5 667.9,1410.5 669.1,1410.5 670.4,1410.5 671.7,1410.5 672.9,1410.5 674.2,1410.5 675.5,1410.5 676.7,1410.5 678.0,1410.5 679.3,1410.5 680.5,1410.5 681.8,1410.5 683.1,1410.5 684.3,1410.5 685.6,1410.5 686.9,1410.5 688.1,1410.5 689.4,1410.5 690.7,1410.5 691.9,1410.5 693.2,1410.5 694.4,1410.5 695.7,1410.5 697.0,1410.5 698.2,1410.5 699.5,1410.5 700.8,1410.5 702.0,1410.5 703.3,1410.5 704.6,1410.5 705.8,1410.5 707.1,1410.5 708.4,1410.5 709.6,1410.5 710.9,1410.5 712.2,1410.5 713.4,1410.5 714.7,1410.5 716.0,1410.5 717.2,1410.5 718.5,1410.5 719.8,1410.5 721.0,1410.5 722.3,1410.5 723.6,1410.5 724.8,1410.5 726.1,1410.5 727.4,1410.5 728.6,1410.5 729.9,1410.5 731.2,1410.5 732.4,1410.5 733.7,1410.5 735.0,1410.5 736.2,1410.5 737.5,1410.5 738.8,1410.5 740.0,1410.5 741.3,1410.5 742.6,1410.5 743.8,1410.5 745.1,1410.5 746.4,1410.5 747.6,1410.5 748.9,1410.5 750.2,1410.5 751.4,1410.5 752.7,1410.5 754.0,1410.5 755.2,1410.5 756.5,1410.5 757.8,1410.5 759.0,1410.5 760.3,1410.5 761.6,1410.5 762.8,1410.5 764.1,1410.5 765.3,1410.5 766.6,1410.5 767.9,1410.5 769.1,1410.5 770.4,1410.5 771.7,1410.5 772.9,1410.5 774.2,1410.5 775.5,1410.5 776.7,1410.5 778.0,1410.5 779.3,1410.5 780.5,1410.5 781.8,1410.5 783.1,1410.5 784.3,1410.5 785.6,1410.5 786.9,1410.5 788.1,1410.5 789.4,1410.5 790.7,1410.5 791.9,1410.5 793.2,1410.5 794.5,1410.5 795.7,1410.5 797.0,1410.5 798.3,1410.5 799.5,1410.5 800.8,1410.5 802.1,1410.5 803.3,1410.5 804.6,1410.5 805.9,1410.5 807.1,1410.5 808.4,1410.5 809.7,1410.5 810.9,1410.6 812.2,1410.6 813.5,1410.6 814.7,1410.6 816.0,1410.6 817.3,1410.6 818.5,1410.6 819.8,1410.6 821.1,1410.6 822.3,1410.6 823.6,1410.6 824.9,1410.6 826.1,1410.6 827.4,1410.6 828.7,1410.6 829.9,1410.6 831.2,1410.6 832.4,1410.6 833.7,1410.6 835.0,1410.7 836.2,1410.7 837.5,1410.7 838.8,1410.7 840.0,1410.7 841.3,1410.7 842.6,1410.7 843.8,1410.7 845.1,1410.7 846.4,1410.7 847.6,1410.7 848.9,1410.7 850.2,1410.7 851.4,1410.7 852.7,1410.7 854.0,1410.7 855.2,1410.7 856.5,1410.7 857.8,1410.7 859.0,1410.7 860.3,1410.7 861.6,1410.7 862.8,1410.7 864.1,1410.7 865.4,1410.7 866.6,1410.7 867.9,1410.7 869.2,1410.7 870.4,1410.7 871.7,1410.6 873.0,1410.6 874.2,1410.6 875.5,1410.6 876.8,1410.6 878.0,1410.6 879.3,1410.6 880.6,1410.6 881.8,1410.6 883.1,1410.6 884.4,1410.6 885.6,1410.5 886.9,1410.5 888.2,1410.5 889.4,1410.5 890.7,1410.5 892.0,1410.5 893.2,1410.5 894.5,1410.4 895.8,1410.4 897.0,1410.4 898.3,1410.4 899.6,1410.4 900.8,1410.3 902.1,1410.3 903.3,1410.3 904.6,1410.3 905.9,1410.2 907.1,1410.2 908.4,1410.2 909.7,1410.2 910.9,1410.1 912.2,1410.1 913.5,1410.1 914.7,1410.0 916.0,1410.0 917.3,1410.0 918.5,1409.9 919.8,1409.9 921.1,1409.9 922.3,1409.8 923.6,1409.8 924.9,1409.8 926.1,1409.7 927.4,1409.7 928.7,1409.6 929.9,1409.6 931.2,1409.5 932.5,1409.5 933.7,1409.4 935.0,1409.4 936.3,1409.4 937.5,1409.3 938.8,1409.2 940.1,1409.2 941.3,1409.1 942.6,1409.1 943.9,1409.0 945.1,1409.0 946.4,1408.9 947.7,1408.9 948.9,1408.8 950.2,1408.8 951.5,1408.7 952.7,1408.6 954.0,1408.6 955.3,1408.5 956.5,1408.5 957.8,1408.4 959.1,1408.4 960.3,1408.3 961.6,1408.2 962.9,1408.2 964.1,1408.1 965.4,1408.1 966.7,1408.0 967.9,1408.0 969.2,1407.9 970.4,1407.9 971.7,1407.8 973.0,1407.8 974.2,1407.7 975.5,1407.7 976.8,1407.6 978.0,1407.6 979.3,1407.6 980.6,1407.5 981.8,1407.5 983.1,1407.4 984.4,1407.4 985.6,1407.4 986.9,1407.3 988.2,1407.3 989.4,1407.3 990.7,1407.3 992.0,1407.2 993.2,1407.2 994.5,1407.2 995.8,1407.1 997.0,1407.1 998.3,1407.1 999.6,1407.1 1000.8,1407.1 1002.1,1407.0 1003.4,1407.0 1004.6,1407.0 1005.9,1407.0 1007.2,1407.0 1008.4,1406.9 1009.7,1406.9 1011.0,1406.9 1012.2,1406.9 1013.5,1406.9 1014.8,1406.9 1016.0,1406.8 1017.3,1406.8 1018.6,1406.8 1019.8,1406.8 1021.1,1406.8 1022.4,1406.7 1023.6,1406.7 1024.9,1406.7 1026.2,1406.7 1027.4,1406.6 1028.7,1406.6 1030.0,1406.6 1031.2,1406.6 1032.5,1406.5 1033.8,1406.5 1035.0,1406.5 1036.3,1406.5 1037.6,1406.4 1038.8,1406.4 1040.1,1406.3 1041.3,1406.3 1042.6,1406.3 1043.9,1406.2 1045.1,1406.2 1046.4,1406.1 1047.7,1406.1 1048.9,1406.0 1050.2,1406.0 1051.5,1405.9 1052.7,1405.9 1054.0,1405.8 1055.3,1405.8 1056.5,1405.7 1057.8,1405.6 1059.1,1405.6 1060.3,1405.5 1061.6,1405.4 1062.9,1405.3 1064.1,1405.3 1065.4,1405.2 1066.7,1405.1 1067.9,1405.0 1069.2,1404.9 1070.5,1404.8 1071.7,1404.7 1073.0,1404.6 1074.3,1404.5 1075.5,1404.4 1076.8,1404.3 1078.1,1404.2 1079.3,1404.0 1080.6,1403.9 1081.9,1403.8 1083.1,1403.6 1084.4,1403.5 1085.7,1403.4 1086.9,1403.2 1088.2,1403.1 1089.5,1402.9 1090.7,1402.8 1092.0,1402.6 1093.3,1402.4 1094.5,1402.3 1095.8,1402.1 1097.1,1401.9 1098.3,1401.8 1099.6,1401.6 1100.9,1401.4 1102.1,1401.2 1103.4,1401.0 1104.7,1400.8 1105.9,1400.6 1107.2,1400.4 1108.4,1400.2 1109.7,1400.0 1111.0,1399.8 1112.2,1399.5 1113.5,1399.3 1114.8,1399.1 1116.0,1398.8 1117.3,1398.6 1118.6,1398.4 1119.8,1398.1 1121.1,1397.9 1122.4,1397.6 1123.6,1397.4 1124.9,1397.1 1126.2,1396.8 1127.4,1396.5 1128.7,1396.3 1130.0,1396.0 1131.2,1395.7 1132.5,1395.4 1133.8,1395.1 1135.0,1394.8 1136.3,1394.5 1137.6,1394.2 1138.8,1393.9 1140.1,1393.6 1141.4,1393.3 1142.6,1392.9 1143.9,1392.6 1145.2,1392.3 1146.4,1391.9 1147.7,1391.6 1149.0,1391.2 1150.2,1390.9 1151.5,1390.5 1152.8,1390.2 1154.0,1389.8 1155.3,1389.4 1156.6,1389.0 1157.8,1388.7 1159.1,1388.3 1160.4,1387.9 1161.6,1387.5 1162.9,1387.1 1164.2,1386.7 1165.4,1386.3 1166.7,1385.8 1168.0,1385.4 1169.2,1385.0 1170.5,1384.6 1171.8,1384.1 1173.0,1383.7 1174.3,1383.2 1175.6,1382.8 1176.8,1382.3 1178.1,1381.9 1179.3,1381.4 1180.6,1381.0 1181.9,1380.5 1183.1,1380.0 1184.4,1379.5 1185.7,1379.0 1186.9,1378.5 1188.2,1378.0 1189.5,1377.5 1190.7,1377.0 1192.0,1376.5 1193.3,1376.0 1194.5,1375.5 1195.8,1374.9 1197.1,1374.4 1198.3,1373.9 1199.6,1373.3 1200.9,1372.8 1202.1,1372.2 1203.4,1371.6 1204.7,1371.1 1205.9,1370.5 1207.2,1369.9 1208.5,1369.4 1209.7,1368.8 1211.0,1368.2 1212.3,1367.6 1213.5,1367.0 1214.8,1366.4 1216.1,1365.8 1217.3,1365.2 1218.6,1364.5 1219.9,1363.9 1221.1,1363.3 1222.4,1362.7 1223.7,1362.0 1224.9,1361.4 1226.2,1360.7 1227.5,1360.1 1228.7,1359.4 1230.0,1358.7 1231.3,1358.1 1232.5,1357.4 1233.8,1356.7 1235.1,1356.0 1236.3,1355.3 1237.6,1354.6 1238.9,1353.9 1240.1,1353.2 1241.4,1352.5 1242.7,1351.8 1243.9,1351.1 1245.2,1350.3 1246.4,1349.6 1247.7,1348.9 1249.0,1348.1 1250.2,1347.4 1251.5,1346.6 1252.8,1345.9 1254.0,1345.1 1255.3,1344.3 1256.6,1343.6 1257.8,1342.8 1259.1,1342.0 1260.4,1341.2 1261.6,1340.4 1262.9,1339.6 1264.2,1338.8 1265.4,1338.0 1266.7,1337.2 1268.0,1336.3 1269.2,1335.5 1270.5,1334.7 1271.8,1333.8 1273.0,1333.0 1274.3,1332.1 1275.6,1331.3 1276.8,1330.4 1278.1,1329.5 1279.4,1328.7 1280.6,1327.8 1281.9,1326.9 1283.2,1326.0 1284.4,1325.1 1285.7,1324.1 1287.0,1323.2 1288.2,1322.3 1289.5,1321.4 1290.8,1320.4 1292.0,1319.5 1293.3,1318.5 1294.6,1317.6 1295.8,1316.6 1297.1,1315.6 1298.4,1314.6 1299.6,1313.6 1300.9,1312.6 1302.2,1311.6 1303.4,1310.6 1304.7,1309.6 1306.0,1308.5 1307.2,1307.5 1308.5,1306.4 1309.8,1305.4 1311.0,1304.3 1312.3,1303.2 1313.6,1302.1 1314.8,1301.0 1316.1,1299.9 1317.3,1298.8 1318.6,1297.7 1319.9,1296.6 1321.1,1295.4 1322.4,1294.3 1323.7,1293.1 1324.9,1292.0 1326.2,1290.8 1327.5,1289.6 1328.7,1288.4 1330.0,1287.2 1331.3,1286.0 1332.5,1284.8 1333.8,1283.5 1335.1,1282.3 1336.3,1281.0 1337.6,1279.8 1338.9,1278.5 1340.1,1277.2 1341.4,1275.9 1342.7,1274.6 1343.9,1273.3 1345.2,1271.9 1346.5,1270.6 1347.7,1269.3 1349.0,1267.9 1350.3,1266.5 1351.5,1265.1 1352.8,1263.8 1354.1,1262.4 1355.3,1260.9 1356.6,1259.5 1357.9,1258.1 1359.1,1256.6 1360.4,1255.2 1361.7,1253.7 1362.9,1252.3 1364.2,1250.8 1365.5,1249.3 1366.7,1247.8 1368.0,1246.3 1369.3,1244.7 1370.5,1243.2 1371.8,1241.7 1373.1,1240.1 1374.3,1238.6 1375.6,1237.0 1376.9,1235.4 1378.1,1233.8 1379.4,1232.2 1380.7,1230.6 1381.9,1229.0 1383.2,1227.4 1384.4,1225.8 1385.7,1224.2 1387.0,1222.5 1388.2,1220.9 1389.5,1219.2 1390.8,1217.5 1392.0,1215.9 1393.3,1214.2 1394.6,1212.5 1395.8,1210.8 1397.1,1209.1 1398.4,1207.4 1399.6,1205.7 1400.9,1204.0 1402.2,1202.2 1403.4,1200.5 1404.7,1198.8 1406.0,1197.0 1407.2,1195.3 1408.5,1193.5 1409.8,1191.8 1411.0,1190.0 1412.3,1188.2 1413.6,1186.4 1414.8,1184.6 1416.1,1182.8 1417.4,1181.0 1418.6,1179.2 1419.9,1177.4 1421.2,1175.6 1422.4,1173.8 1423.7,1172.0 1425.0,1170.1 1426.2,1168.3 1427.5,1166.5 1428.8,1164.6 1430.0,1162.8 1431.3,1160.9 1432.6,1159.1 1433.8,1157.2 1435.1,1155.3 1436.4,1153.5 1437.6,1151.6 1438.9,1149.7 1440.2,1147.9 1441.4,1146.0 1442.7,1144.1 1444.0,1142.2 1445.2,1140.3 1446.5,1138.4 1447.8,1136.5 1449.0,1134.6 1450.3,1132.7 1451.6,1130.8 1452.8,1128.8 1454.1,1126.9 1455.3,1125.0 1456.6,1123.0 1457.9,1121.1 1459.1,1119.1 1460.4,1117.1 1461.7,1115.1 1462.9,1113.2 1464.2,1111.2 1465.5,1109.1 1466.7,1107.1 1468.0,1105.1 1469.3,1103.1 1470.5,1101.0 1471.8,1098.9 1473.1,1096.9 1474.3,1094.8 1475.6,1092.7 1476.9,1090.6 1478.1,1088.4 1479.4,1086.3 1480.7,1084.1 1481.9,1081.9 1483.2,1079.8 1484.5,1077.6 1485.7,1075.3 1487.0,1073.1 1488.3,1070.8 1489.5,1068.6 1490.8,1066.3 1492.1,1064.0 1493.3,1061.7 1494.6,1059.3 1495.9,1057.0 1497.1,1054.6 1498.4,1052.3 1499.7,1049.9 1500.9,1047.5 1502.2,1045.0 1503.5,1042.6 1504.7,1040.2 1506.0,1037.7 1507.3,1035.2 1508.5,1032.7 1509.8,1030.2 1511.1,1027.7 1512.3,1025.2 1513.6,1022.6 1514.9,1020.1 1516.1,1017.5 1517.4,1014.9 1518.7,1012.3 1519.9,1009.7 1521.2,1007.1 1522.4,1004.5 1523.7,1001.8 1525.0,999.2 1526.2,996.5 1527.5,993.9 1528.8,991.2 1530.0,988.5 1531.3,985.8 1532.6,983.1 1533.8,980.3 1535.1,977.6 1536.4,974.9 1537.6,972.1 1538.9,969.4 1540.2,966.6 1541.4,963.8 1542.7,961.0 1544.0,958.2 1545.2,955.4 1546.5,952.6 1547.8,949.8 1549.0,947.0 1550.3,944.1 1551.6,941.3 1552.8,938.5 1554.1,935.6 1555.4,932.7 1556.6,929.9 1557.9,927.0 1559.2,924.1 1560.4,921.2 1561.7,918.4 1563.0,915.5 1564.2,912.6 1565.5,909.7 1566.8,906.7 1568.0,903.8 1569.3,900.9 1570.6,898.0 1571.8,895.1 1573.1,892.1 1574.4,889.2 1575.6,886.3 1576.9,883.3 1578.2,880.4 1579.4,877.4 1580.7,874.5 1582.0,871.5 1583.2,868.6 1584.5,865.6 1585.8,862.6 1587.0,859.7 1588.3,856.7 1589.6,853.7 1590.8,850.7 1592.1,847.7 1593.3,844.8 1594.6,841.8 1595.9,838.8 1597.1,835.8 1598.4,832.7 1599.7,829.7 1600.9,826.7 1602.2,823.7 1603.5,820.7 1604.7,817.6 1606.0,814.6 1607.3,811.5 1608.5,808.5 1609.8,805.4 1611.1,802.3 1612.3,799.3 1613.6,796.2 1614.9,793.1 1616.1,790.0 1617.4,786.9 1618.7,783.8 1619.9,780.7 1621.2,777.5 1622.5,774.4 1623.7,771.3 1625.0,768.1 1626.3,765.0 1627.5,761.8 1628.8,758.6 1630.1,755.4 1631.3,752.2 1632.6,749.0 1633.9,745.8 1635.1,742.6 1636.4,739.3 1637.7,736.1 1638.9,732.8 1640.2,729.6 1641.5,726.3 1642.7,723.0 1644.0,719.7 1645.3,716.4 1646.5,713.1 1647.8,709.8 1649.1,706.4 1650.3,703.1 1651.6,699.7 1652.9,696.4 1654.1,693.0 1655.4,689.6 1656.7,686.2 1657.9,682.7 1659.2,679.3 1660.4,675.8 1661.7,672.4 1663.0,668.9 1664.2,665.4 1665.5,661.9 1666.8,658.4 1668.0,654.9 1669.3,651.3 1670.6,647.8 1671.8,644.2 1673.1,640.6 1674.4,637.1 1675.6,633.5 1676.9,629.9 1678.2,626.3 1679.4,622.7 1680.7,619.1 1682.0,615.6 1683.2,612.0 1684.5,608.5 1685.8,605.0 1687.0,601.6 1688.3,598.2 1689.6,594.8 1690.8,591.4 1692.1,588.1 1693.4,584.9 1694.6,581.7 1695.9,578.6 1697.2,575.5 1698.4,572.5 1699.7,569.6 1701.0,566.7 1702.2,563.9 1703.5,561.2 1704.8,558.6 1706.0,556.0 1707.3,553.6 1708.6,551.2 1709.8,549.0 1711.1,546.8 1712.4,544.8 1713.6,542.9 1714.9,541.1 1716.2,539.4 1717.4,537.8 1718.7,536.3 1720.0,535.0 1721.2,533.8 1722.5,532.7 1723.8,531.7 1725.0,530.8 1726.3,530.1 1727.6,529.4 1728.8,528.8 1730.1,528.3 1731.3,527.9 1732.6,527.6 1733.9,527.3 1735.1,527.2 1736.4,527.1 1737.7,527.1 1738.9,527.1 1740.2,527.3 1741.5,527.5 1742.7,527.7 1744.0,528.0 1745.3,528.3 1746.5,528.7 1747.8,529.1 1749.1,529.6 1750.3,530.1 1751.6,530.7 1752.9,531.2 1754.1,531.8 1755.4,532.5 1756.7,533.1 1757.9,533.7 1759.2,534.4 1760.5,535.1 1761.7,535.8 1763.0,536.4 1764.3,537.1 1765.5,537.8 1766.8,538.4 1768.1,539.1 1769.3,539.7 1770.6,540.3 1771.9,540.9 1773.1,541.5 1774.4,542.0 1775.7,542.5 1776.9,543.0 1778.2,543.4 1779.5,543.7 1780.7,544.1 1782.0,544.3 1783.3,544.6 1784.5,544.7 1785.8,544.8 1787.1,544.9 1788.3,544.8 1789.6,544.7 1790.9,544.5 1792.1,544.3 1793.4,543.9 1794.7,543.5 1795.9,542.9 1797.2,542.3 1798.4,541.6 1799.7,540.8 1801.0,539.9 1802.2,538.8 1803.5,537.7 1804.8,536.5 1806.0,535.1 1807.3,533.6 1808.6,532.0 1809.8,530.2 1811.1,528.3 1812.4,526.3 1813.6,524.2 1814.9,522.0 1816.2,519.6 1817.4,517.1 1818.7,514.5 1820.0,511.8 1821.2,508.9 1822.5,506.0 1823.8,502.9 1825.0,499.7 1826.3,496.4 1827.6,493.1 1828.8,489.6 1830.1,486.0 1831.4,482.3 1832.6,478.5 1833.9,474.6 1835.2,470.6 1836.4,466.6 1837.7,462.4 1839.0,458.1 1840.2,453.8 1841.5,449.4 1842.8,444.8 1844.0,440.3 1845.3,435.6 1846.6,430.8 1847.8,426.0 1849.1,421.1 1850.4,416.1 1851.6,411.1 1852.9,405.9 1854.2,400.8 1855.4,395.5 1856.7,390.2 1858.0,384.8 1859.2,379.4 1860.5,373.9 1861.8,368.3 1863.0,362.7 1864.3,357.0 1865.6,351.3 1866.8,345.5 1868.1,339.7 1869.3,333.9 1870.6,327.9 1871.9,322.0 1873.1,316.0 1874.4,310.0 1875.7,303.9 1876.9,297.8 1878.2,291.7 1879.5,285.5 1880.7,279.3 1882.0,273.1 1883.3,266.8 1884.5,260.5 1885.8,254.2 1887.1,247.9 1888.3,241.5 1889.6,235.2 1890.9,228.8 1892.1,222.4 1893.4,216.0 1894.7,209.6 1895.9,203.2 1897.2,196.7 1898.5,190.3 1899.7,183.8 1901.0,177.4"/>
<circle cx="383.0" cy="1410.5" r="24.5" fill="#a00000"/><circle cx="376.0" cy="1403.5" r="12.5" fill="#d06a6a"/><circle cx="376.0" cy="1403.5" r="8.5" fill="#e8b4b4"/><circle cx="376.0" cy="1403.5" r="4" fill="#fcf6f6"/>
<circle cx="521.0" cy="1410.5" r="24.5" fill="#a00000"/><circle cx="514.0" cy="1403.5" r="12.5" fill="#d06a6a"/><circle cx="514.0" cy="1403.5" r="8.5" fill="#e8b4b4"/><circle cx="514.0" cy="1403.5" r="4" fill="#fcf6f6"/>
<circle cx="613.0" cy="1410.5" r="24.5" fill="#a00000"/><circle cx="606.0" cy="1403.5" r="12.5" fill="#d06a6a"/><circle cx="606.0" cy="1403.5" r="8.5" fill="#e8b4b4"/><circle cx="606.0" cy="1403.5" r="4" fill="#fcf6f6"/>
<circle cx="705.0" cy="1410.5" r="24.5" fill="#a00000"/><circle cx="698.0" cy="1403.5" r="12.5" fill="#d06a6a"/><circle cx="698.0" cy="1403.5" r="8.5" fill="#e8b4b4"/><circle cx="698.0" cy="1403.5" r="4" fill="#fcf6f6"/>
<circle cx="797.0" cy="1410.5" r="24.5" fill="#a00000"/><circle cx="790.0" cy="1403.5" r="12.5" fill="#d06a6a"/><circle cx="790.0" cy="1403.5" r="8.5" fill="#e8b4b4"/><circle cx="790.0" cy="1403.5" r="4" fill="#fcf6f6"/>
<circle cx="935.0" cy="1409.4" r="24.5" fill="#a00000"/><circle cx="928.0" cy="1402.4" r="12.5" fill="#d06a6a"/><circle cx="928.0" cy="1402.4" r="8.5" fill="#e8b4b4"/><circle cx="928.0" cy="1402.4" r="4" fill="#fcf6f6"/>
<circle cx="981.0" cy="1407.5" r="24.5" fill="#a00000"/><circle cx="974.0" cy="1400.5" r="12.5" fill="#d06a6a"/><circle cx="974.0" cy="1400.5" r="8.5" fill="#e8b4b4"/><circle cx="974.0" cy="1400.5" r="4" fill="#fcf6f6"/>
<circle cx="1073.0" cy="1404.6" r="24.5" fill="#a00000"/><circle cx="1066.0" cy="1397.6" r="12.5" fill="#d06a6a"/><circle cx="1066.0" cy="1397.6" r="8.5" fill="#e8b4b4"/><circle cx="1066.0" cy="1397.6" r="4" fill="#fcf6f6"/>
<circle cx="1165.0" cy="1386.4" r="24.5" fill="#a00000"/><circle cx="1158.0" cy="1379.4" r="12.5" fill="#d06a6a"/><circle cx="1158.0" cy="1379.4" r="8.5" fill="#e8b4b4"/><circle cx="1158.0" cy="1379.4" r="4" fill="#fcf6f6"/>
<circle cx="1257.0" cy="1343.3" r="24.5" fill="#a00000"/><circle cx="1250.0" cy="1336.3" r="12.5" fill="#d06a6a"/><circle cx="1250.0" cy="1336.3" r="8.5" fill="#e8b4b4"/><circle cx="1250.0" cy="1336.3" r="4" fill="#fcf6f6"/>
<circle cx="1349.0" cy="1267.9" r="24.5" fill="#a00000"/><circle cx="1342.0" cy="1260.9" r="12.5" fill="#d06a6a"/><circle cx="1342.0" cy="1260.9" r="8.5" fill="#e8b4b4"/><circle cx="1342.0" cy="1260.9" r="4" fill="#fcf6f6"/>
<circle cx="1441.0" cy="1146.6" r="24.5" fill="#a00000"/><circle cx="1434.0" cy="1139.6" r="12.5" fill="#d06a6a"/><circle cx="1434.0" cy="1139.6" r="8.5" fill="#e8b4b4"/><circle cx="1434.0" cy="1139.6" r="4" fill="#fcf6f6"/>
<circle cx="1487.0" cy="1073.1" r="24.5" fill="#a00000"/><circle cx="1480.0" cy="1066.1" r="12.5" fill="#d06a6a"/><circle cx="1480.0" cy="1066.1" r="8.5" fill="#e8b4b4"/><circle cx="1480.0" cy="1066.1" r="4" fill="#fcf6f6"/>
<circle cx="1579.0" cy="878.4" r="24.5" fill="#a00000"/><circle cx="1572.0" cy="871.4" r="12.5" fill="#d06a6a"/><circle cx="1572.0" cy="871.4" r="8.5" fill="#e8b4b4"/><circle cx="1572.0" cy="871.4" r="4" fill="#fcf6f6"/>
<circle cx="1671.0" cy="646.6" r="24.5" fill="#a00000"/><circle cx="1664.0" cy="639.6" r="12.5" fill="#d06a6a"/><circle cx="1664.0" cy="639.6" r="8.5" fill="#e8b4b4"/><circle cx="1664.0" cy="639.6" r="4" fill="#fcf6f6"/>
<circle cx="1717.0" cy="538.3" r="24.5" fill="#a00000"/><circle cx="1710.0" cy="531.3" r="12.5" fill="#d06a6a"/><circle cx="1710.0" cy="531.3" r="8.5" fill="#e8b4b4"/><circle cx="1710.0" cy="531.3" r="4" fill="#fcf6f6"/>
<circle cx="1809.0" cy="531.4" r="24.5" fill="#a00000"/><circle cx="1802.0" cy="524.4" r="12.5" fill="#d06a6a"/><circle cx="1802.0" cy="524.4" r="8.5" fill="#e8b4b4"/><circle cx="1802.0" cy="524.4" r="4" fill="#fcf6f6"/>
<circle cx="1901.0" cy="177.4" r="24.5" fill="#a00000"/><circle cx="1894.0" cy="170.4" r="12.5" fill="#d06a6a"/><circle cx="1894.0" cy="170.4" r="8.5" fill="#e8b4b4"/><circle cx="1894.0" cy="170.4" r="4" fill="#fcf6f6"/>
<line x1="335" y1="264.5" x2="510" y2="264.5" stroke="#737373" stroke-width="5.0"/>
<circle cx="422.4" cy="264.5" r="24.5" fill="#0033ff"/><circle cx="415.4" cy="257.5" r="12.5" fill="#7088ff"/><circle cx="415.4" cy="257.5" r="8.5" fill="#b8c4ff"/><circle cx="415.4" cy="257.5" r="4" fill="#f8faff"/>
<line x1="335" y1="358.5" x2="510" y2="358.5" stroke="#ff3d3d" stroke-width="5.0"/>
<circle cx="422.4" cy="358.5" r="24.5" fill="#a00000"/><circle cx="415.4" cy="351.5" r="12.5" fill="#d06a6a"/><circle cx="415.4" cy="351.5" r="8.5" fill="#e8b4b4"/><circle cx="415.4" cy="351.5" r="4" fill="#fcf6f6"/>
<text x="526.8" y="290.7" font-size="77">E.Gadioli et al. 1984</text>
<text x="527.5" y="385" font-size="77.35">Code COMPLET n</text>
<text x="1127.7" y="405.9" font-size="49">o</text>
<text x="1153.2" y="385" font-size="77">=</text>
<text x="1217.5" y="385" font-size="77">4(4p0h)</text>
</svg></body></html>
